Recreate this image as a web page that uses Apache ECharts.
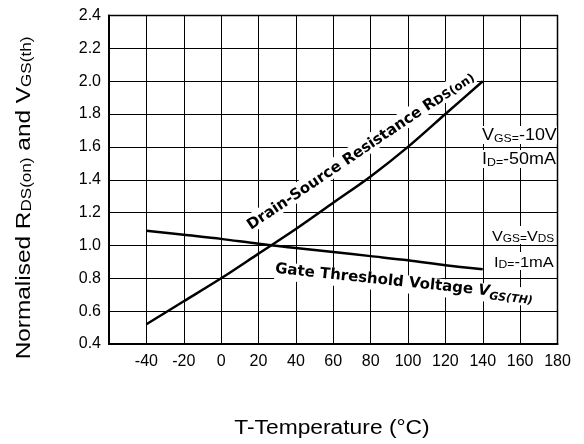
<!DOCTYPE html>
<html>
<head>
<meta charset="utf-8">
<script src="https://cdn.jsdelivr.net/npm/echarts@6/dist/echarts.min.js"></script>
<style>html,body{margin:0;padding:0;background:#fff}#c{width:584px;height:444px}</style>
</head>
<body>
<div id="c"></div>
<script>
// Data
var temps = [-40, -20, 0, 20, 40, 60, 80, 100, 120, 140];
var rdsOn = [0.52, 0.66, 0.80, 0.95, 1.10, 1.26, 1.42, 1.60, 1.80, 2.00];
var vgsTh = [1.09, 1.065, 1.04, 1.01, 0.985, 0.96, 0.935, 0.91, 0.88, 0.855];
var xTicks = [-60, -40, -20, 0, 20, 40, 60, 80, 100, 120, 140, 160, 180];
var yTicks = [0.4, 0.6, 0.8, 1.0, 1.2, 1.4, 1.6, 1.8, 2.0, 2.2, 2.4];
var xHidden = [-60];

function pairs(xs, ys) { return xs.map(function (x, i) { return [x, ys[i]]; }); }

var FONT = 'Liberation Sans, Arial, sans-serif';
var BOLD = 'DejaVu Sans, Verdana, sans-serif';

function annoRich(size, sub) {
  return {
    m: { fontFamily: FONT, fontSize: size, lineHeight: 18, verticalAlign: 'bottom', color: '#000' },
    s: { fontFamily: FONT, fontSize: sub, lineHeight: 13, verticalAlign: 'bottom', color: '#000' }
  };
}

var chart = echarts.init(document.getElementById('c'), null, { renderer: 'canvas' });
chart.setOption({
  animation: false,
  backgroundColor: '#fff',
  grid: { left: 109, right: 26.5, top: 15.5, bottom: 100, show: true, borderColor: '#000', borderWidth: 1.5, backgroundColor: 'transparent' },
  xAxis: {
    type: 'value', min: xTicks[0], max: xTicks[xTicks.length - 1], interval: 20,
    axisLine: { show: true, onZero: false, lineStyle: { color: '#000', width: 2 } },
    axisTick: { show: false },
    splitLine: { show: true, lineStyle: { color: '#000', width: 1 } },
    axisLabel: {
      color: '#000', fontFamily: FONT, fontSize: 16, margin: 10,
      formatter: function (v) { return xHidden.indexOf(v) >= 0 ? '' : String(v); }
    }
  },
  yAxis: {
    type: 'value', min: yTicks[0], max: yTicks[yTicks.length - 1], interval: 0.2,
    axisLine: { show: true, onZero: false, lineStyle: { color: '#000', width: 2 } },
    axisTick: { show: false },
    splitLine: { show: true, lineStyle: { color: '#000', width: 1 } },
    axisLabel: {
      color: '#000', fontFamily: FONT, fontSize: 16, margin: 8,
      formatter: function (v) { return v.toFixed(1); }
    }
  },
  series: [
    { type: 'line', data: pairs(temps, rdsOn), smooth: 0.3, showSymbol: false, z: 5,
      lineStyle: { color: '#000', width: 2.5 } },
    { type: 'line', data: pairs(temps, vgsTh), smooth: 0.3, showSymbol: false, z: 5,
      lineStyle: { color: '#000', width: 2.5 } }
  ],
  graphic: [
    { type: 'text', z: 3, x: 332, y: 428, scaleX: 1.14,
      style: { text: 'T-Temperature (°C)', fontFamily: FONT, fontSize: 20, fill: '#000', align: 'center', verticalAlign: 'middle' } },
    { type: 'text', z: 3, x: 23, y: 198, rotation: Math.PI / 2, scaleX: 1.22,
      style: { text: '{m|Normalised R}{s|DS(on)}{m| and V}{s|GS(th)}', align: 'center', verticalAlign: 'middle',
        rich: {
          m: { fontFamily: FONT, fontSize: 20, lineHeight: 22, verticalAlign: 'bottom', color: '#000' },
          s: { fontFamily: FONT, fontSize: 14, lineHeight: 16, verticalAlign: 'bottom', color: '#000' }
        } } },
    { type: 'text', z: 3, x: 360, y: 150, rotation: 34 * Math.PI / 180,
      style: { text: '{m|Drain-Source Resistance R}{s|DS(on)}', align: 'center', verticalAlign: 'middle', backgroundColor: '#fff',
        rich: {
          m: { fontFamily: BOLD, fontWeight: 'bold', fontSize: 15, lineHeight: 18, verticalAlign: 'bottom', color: '#000' },
          s: { fontFamily: BOLD, fontWeight: 'bold', fontSize: 12, lineHeight: 14, verticalAlign: 'bottom', color: '#000' }
        } } },
    { type: 'text', z: 3, x: 404, y: 284, rotation: -6 * Math.PI / 180,
      style: { text: '{m|Gate Threshold Voltage }{i|V}{s|GS(TH)}', align: 'center', verticalAlign: 'middle', backgroundColor: '#fff',
        rich: {
          m: { fontFamily: BOLD, fontWeight: 'bold', fontSize: 15, lineHeight: 18, verticalAlign: 'top', color: '#000' },
          i: { fontFamily: BOLD, fontWeight: 'bold', fontStyle: 'italic', fontSize: 15, lineHeight: 18, verticalAlign: 'top', color: '#000' },
          s: { fontFamily: BOLD, fontWeight: 'bold', fontStyle: 'italic', fontSize: 11, lineHeight: 8, verticalAlign: 'bottom', color: '#000' }
        } } },
    { type: 'text', z: 3, x: 482, y: 135, scaleX: 1.12,
      style: { text: '{m|V}{s|GS=}{m|-10V}', align: 'left', verticalAlign: 'middle', backgroundColor: '#fff', rich: annoRich(16, 11) } },
    { type: 'text', z: 3, x: 482, y: 159, scaleX: 1.12,
      style: { text: '{m|I}{s|D=}{m|-50mA}', align: 'left', verticalAlign: 'middle', backgroundColor: '#fff', rich: annoRich(16, 11) } },
    { type: 'text', z: 3, x: 492, y: 235, scaleX: 1.08,
      style: { text: '{m|V}{s|GS=}{m|V}{s|DS}', align: 'left', verticalAlign: 'middle', backgroundColor: '#fff', rich: annoRich(15, 11) } },
    { type: 'text', z: 3, x: 494, y: 261, scaleX: 1.1,
      style: { text: '{m|I}{s|D=}{m|-1mA}', align: 'left', verticalAlign: 'middle', backgroundColor: '#fff', rich: annoRich(15, 11) } }
  ]
});
</script>
</body>
</html>
